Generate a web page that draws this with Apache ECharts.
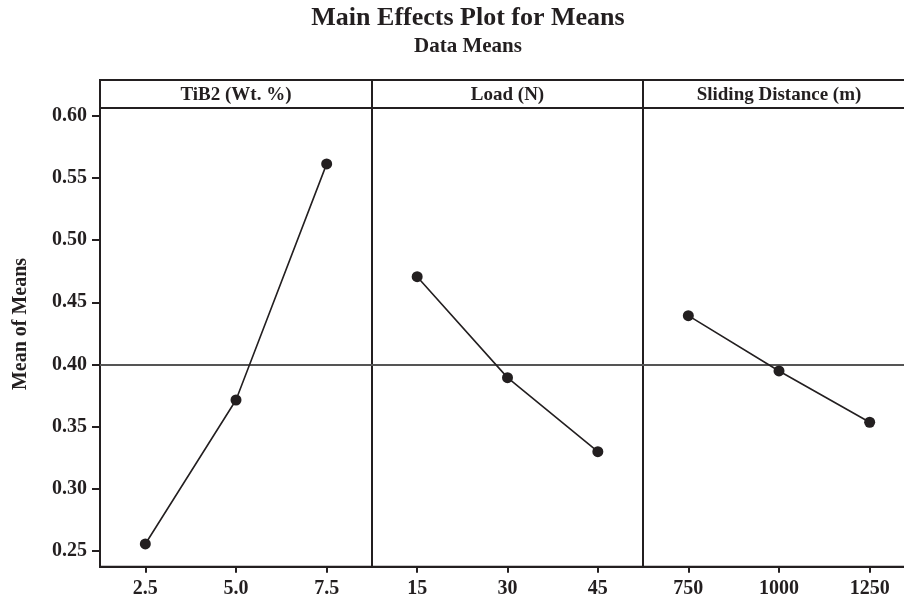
<!DOCTYPE html>
<html>
<head>
<meta charset="utf-8">
<script src="https://cdn.jsdelivr.net/npm/echarts@6/dist/echarts.min.js"></script>
<style>html,body{margin:0;padding:0;background:#fff}#c{width:904px;height:602px}</style>
</head>
<body>
<div id="c"></div>
<script>
// ---- data ----
const mainTitle = 'Main Effects Plot for Means';
const subTitle = 'Data Means';
const yAxisTitle = 'Mean of Means';
const panelTitles = ['TiB2 (Wt. %)', 'Load (N)', 'Sliding Distance (m)'];
const tib2Levels = ['2.5', '5.0', '7.5'];
const loadLevels = ['15', '30', '45'];
const distLevels = ['750', '1000', '1250'];
const tib2Means = [0.2554, 0.3713, 0.5614];
const loadMeans = [0.4706, 0.3893, 0.3297];
const distMeans = [0.4392, 0.3947, 0.3534];
const grandMean = 0.3962;
const yTicks = [0.25, 0.30, 0.35, 0.40, 0.45, 0.50, 0.55, 0.60];
const yMin = 0.2371, yMax = 0.6064;

const FONT = '"Liberation Serif", "Times New Roman", serif';
const INK = '#231f20';
const chart = echarts.init(document.getElementById('c'), null, {renderer: 'canvas'});

const levels = [tib2Levels, loadLevels, distLevels];
const means = [tib2Means, loadMeans, distMeans];
const lefts = [100, 372, 643];
const widths = [272, 271, 272];

const grids = lefts.map((l, i) => ({
  left: l, width: widths[i], top: 108, bottom: 35.3,
  outerBoundsMode: 'none', containLabel: false,
  show: true, borderColor: INK, borderWidth: 2, backgroundColor: 'transparent'
}));

const xAxes = levels.map((lv, i) => ({
  type: 'category', gridIndex: i, data: lv, boundaryGap: true,
  axisLine: {show: true, lineStyle: {color: INK, width: 2}},
  axisTick: {show: true, alignWithLabel: true, length: 6, lineStyle: {color: INK, width: 2}},
  axisLabel: {color: INK, fontFamily: FONT, fontWeight: 'bold', fontSize: 20, margin: 12},
  splitLine: {show: false}
}));

const yAxes = [0, 1, 2].map(i => ({
  type: 'value', gridIndex: i, min: yMin, max: yMax,
  show: i === 0,
  axisLine: {show: true, lineStyle: {color: INK, width: 2}},
  axisTick: {show: true, length: 8, lineStyle: {color: INK, width: 2}, customValues: yTicks},
  axisLabel: {color: INK, fontFamily: FONT, fontWeight: 'bold', fontSize: 20, margin: 13,
    customValues: yTicks, formatter: v => v.toFixed(2)},
  splitLine: {show: false}
}));

const series = means.map((m, i) => ({
  type: 'line', xAxisIndex: i, yAxisIndex: i, data: m,
  symbol: 'circle', symbolSize: 11, showSymbol: true,
  itemStyle: {color: INK}, lineStyle: {color: INK, width: 1.6},
  z: 3,
  markLine: {
    silent: true, symbol: 'none', label: {show: false},
    lineStyle: {color: '#555', width: 2, type: 'solid'},
    data: [{yAxis: grandMean}], z: 2
  }
}));

const graphic = [
  {type: 'rect', shape: {x: 100, y: 80, width: 815, height: 28},
   style: {fill: 'none', stroke: INK, lineWidth: 2}, z: 10},
  {type: 'line', shape: {x1: 372, y1: 80, x2: 372, y2: 108}, style: {stroke: INK, lineWidth: 2}, z: 10},
  {type: 'line', shape: {x1: 643, y1: 80, x2: 643, y2: 108}, style: {stroke: INK, lineWidth: 2}, z: 10},
  {type: 'text', x: 468, y: 18,
   style: {text: mainTitle, font: 'bold 26px ' + FONT, fill: INK, align: 'center', verticalAlign: 'middle'}, z: 10},
  {type: 'text', x: 468, y: 46.5,
   style: {text: subTitle, font: 'bold 21px ' + FONT, fill: INK, align: 'center', verticalAlign: 'middle'}, z: 10},
  {type: 'text', x: 21, y: 324, rotation: Math.PI / 2,
   style: {text: yAxisTitle, font: 'bold 20px ' + FONT, fill: INK, align: 'center', verticalAlign: 'middle'}, z: 10}
];
panelTitles.forEach((t, i) => {
  graphic.push({type: 'text', x: lefts[i] + widths[i] / 2, y: 95,
    style: {text: t, font: 'bold 19px ' + FONT, fill: INK, align: 'center', verticalAlign: 'middle'}, z: 10});
});

chart.setOption({
  backgroundColor: '#fff',
  animation: false,
  grid: grids, xAxis: xAxes, yAxis: yAxes, series: series, graphic: graphic
});
</script>
</body>
</html>
